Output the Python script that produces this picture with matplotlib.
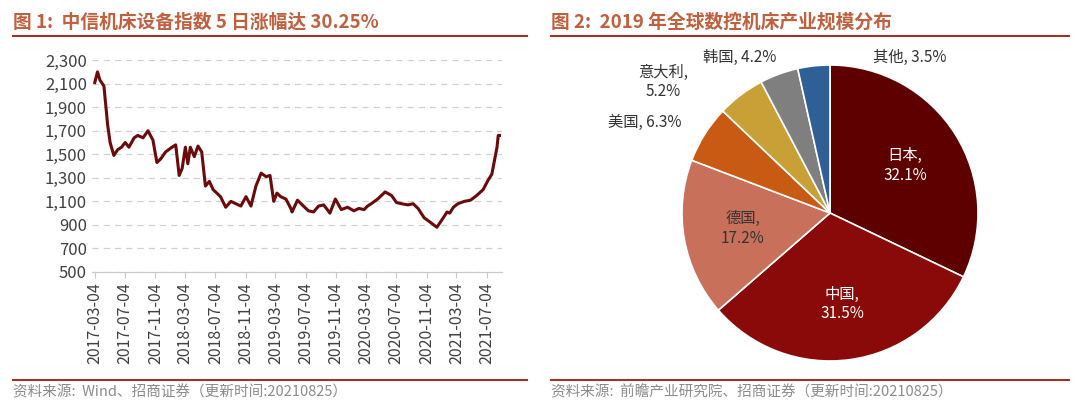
import numpy as np
import pandas as pd
import matplotlib.pyplot as plt
from matplotlib.lines import Line2D
from matplotlib import font_manager

names = {f.name for f in font_manager.fontManager.ttflist}
cjk = [n for n in ["Noto Sans CJK SC", "Noto Sans CJK JP", "Noto Sans CJK TC"] if n in names]
plt.rcParams['font.sans-serif'] = cjk + ["DejaVu Sans"]
plt.rcParams['font.family'] = "sans-serif"

# Left chart: index values
dates = ["2017-03-04", "2017-03-15", "2017-03-25", "2017-04-10", "2017-04-25", "2017-05-05",
         "2017-05-20", "2017-06-05", "2017-06-20", "2017-07-05", "2017-07-20", "2017-08-10",
         "2017-08-25", "2017-09-15", "2017-10-05", "2017-10-25", "2017-11-10", "2017-11-25",
         "2017-12-15", "2018-01-10", "2018-01-25", "2018-02-08", "2018-02-20", "2018-03-05",
         "2018-03-15", "2018-03-25", "2018-04-10", "2018-04-25", "2018-05-10", "2018-05-25",
         "2018-06-10", "2018-06-25", "2018-07-10", "2018-07-25", "2018-08-15", "2018-09-05",
         "2018-09-25", "2018-10-15", "2018-11-05", "2018-11-25", "2018-12-15", "2019-01-05",
         "2019-01-25", "2019-02-10", "2019-02-25", "2019-03-10", "2019-03-25", "2019-04-15",
         "2019-05-05", "2019-05-10", "2019-06-01", "2019-06-25", "2019-07-15", "2019-08-05",
         "2019-08-25", "2019-09-15", "2019-10-10", "2019-11-01", "2019-11-25", "2019-12-20",
         "2020-01-15", "2020-02-04", "2020-02-25", "2020-03-10", "2020-03-25", "2020-04-20",
         "2020-05-20", "2020-06-15", "2020-07-05", "2020-07-25", "2020-08-20", "2020-09-10",
         "2020-09-30", "2020-10-25", "2020-11-20", "2020-12-15", "2021-01-10", "2021-01-25",
         "2021-02-05", "2021-02-20", "2021-03-10", "2021-04-05", "2021-04-30", "2021-05-25",
         "2021-06-20", "2021-07-10", "2021-07-25", "2021-08-05", "2021-08-15", "2021-08-20",
         "2021-08-23", "2021-08-25"]
values = [2110, 2200, 2130, 2080, 1750, 1600, 1490, 1540, 1560, 1600, 1560, 1640,
          1660, 1640, 1700, 1620, 1430, 1460, 1520, 1560, 1580, 1320, 1380, 1560,
          1420, 1560, 1480, 1570, 1520, 1230, 1270, 1200, 1170, 1140, 1050, 1100,
          1080, 1060, 1140, 1060, 1230, 1340, 1310, 1320, 1100, 1170, 1140, 1120,
          1040, 1010, 1110, 1060, 1020, 1010, 1060, 1070, 1000, 1120, 1030, 1050,
          1020, 1040, 1030, 1060, 1080, 1120, 1180, 1150, 1090, 1080, 1070, 1080,
          1040, 960, 920, 880, 960, 1010, 1000, 1050, 1080, 1100, 1110, 1150,
          1200, 1280, 1330, 1450, 1560, 1660, 1660, 1660]
values = values[:len(dates)]
yticks = [500, 700, 900, 1100, 1300, 1500, 1700, 1900, 2100, 2300]
xticks = ["2017-03-04", "2017-07-04", "2017-11-04", "2018-03-04", "2018-07-04", "2018-11-04",
          "2019-03-04", "2019-07-04", "2019-11-04", "2020-03-04", "2020-07-04", "2020-11-04",
          "2021-03-04", "2021-07-04"]

# Right chart: 2019 share by country
countries = ["日本", "中国", "德国", "美国", "意大利", "韩国", "其他"]
shares = [32.1, 31.5, 17.2, 6.3, 5.2, 4.2, 3.5]
colors = ["#5E0000", "#8A0A0A", "#C8705A", "#C85A14", "#C9A035", "#7F7F7F", "#2F5F95"]

W, H = 1080, 409
fig = plt.figure(figsize=(10.8, 4.09), dpi=100)
title_c = "#C0603F"

ax = fig.add_axes([0.085, 0.335, 0.38, 0.518])
d = pd.to_datetime(dates)
ax.plot(d, values, color="#6B0A0A", lw=2.2)
ax.set_ylim(500, 2300)
ax.set_yticks(yticks)
ax.set_yticklabels([f"{v:,}" for v in yticks], fontsize=12, color="#404040")
xt = pd.to_datetime(xticks)
ax.set_xticks(xt)
ax.set_xticklabels(xticks, rotation=90, fontsize=11.5, color="#404040")
ax.set_xlim(pd.Timestamp("2017-02-20"), pd.Timestamp("2021-09-05"))
ax.grid(axis="y", ls=(0, (5, 4)), color="#d0d0d0", lw=0.9)
for s in ["top", "right", "left"]:
    ax.spines[s].set_visible(False)
ax.spines["bottom"].set_color("#c8c8c8")
ax.tick_params(axis="y", length=0)
ax.tick_params(axis="x", color="#c8c8c8", length=4)

fig.text(0.012, 0.945, "图 1:  中信机床设备指数 5 日涨幅达 30.25%", fontsize=13.5,
         fontweight="bold", color=title_c, va="center")
fig.text(0.012, 0.042, "资料来源:  Wind、招商证券（更新时间:20210825）", fontsize=10.5,
         color="#8c8c8c", va="center")
fig.text(0.51, 0.945, "图 2:  2019 年全球数控机床产业规模分布", fontsize=13.5,
         fontweight="bold", color=title_c, va="center")
fig.text(0.51, 0.042, "资料来源:  前瞻产业研究院、招商证券（更新时间:20210825）", fontsize=10.5,
         color="#8c8c8c", va="center")
for x0, x1 in [(0.012, 0.488), (0.51, 0.99)]:
    for y in [0.912, 0.07]:
        fig.add_artist(Line2D([x0, x1], [y, y], color="#A0332A", lw=1.5))

cx, cy, r = 830, 213, 148
pax = fig.add_axes([(cx - r) / W, (H - cy - r) / H, 2 * r / W, 2 * r / H])
wedges, _ = pax.pie(shares, colors=colors, startangle=90, counterclock=False,
                    wedgeprops=dict(edgecolor="white", lw=1.2))
pax.set_xlim(-1, 1)
pax.set_ylim(-1, 1)
inside = {0: (0.6, "white"), 1: (0.62, "white"), 2: (0.6, "#333333")}
outside_px = {3: (645, 122), 4: (663, 82), 5: (740, 57), 6: (910, 57)}
for i, w in enumerate(wedges):
    if i in inside:
        rr, c = inside[i]
        ang = np.deg2rad((w.theta1 + w.theta2) / 2)
        pax.text(rr * np.cos(ang), rr * np.sin(ang), f"{countries[i]},\n{shares[i]}%",
                 ha="center", va="center", fontsize=11, color=c)
    else:
        lab = f"{countries[i]},\n{shares[i]}%" if i == 4 else f"{countries[i]}, {shares[i]}%"
        x, y = outside_px[i]
        fig.text(x / W, 1 - y / H, lab, ha="center", va="center", fontsize=11, color="#333333")

fig.savefig("out.png", dpi=100)
